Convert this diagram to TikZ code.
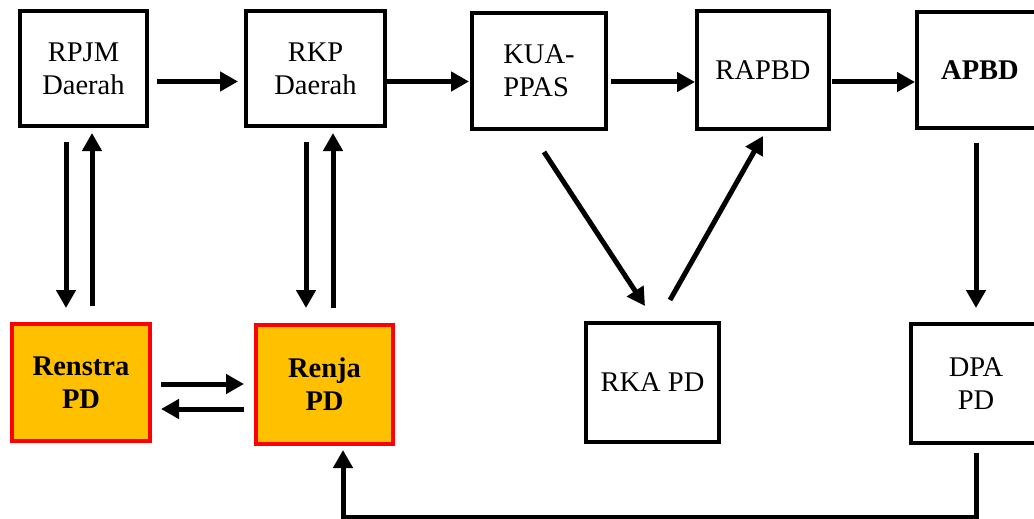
\documentclass[tikz,border=0pt]{standalone}
\usepackage{fontspec}
\setmainfont{Liberation Serif}
\usetikzlibrary{arrows.meta}
\definecolor{boxorange}{HTML}{FFC000}
\definecolor{boxred}{HTML}{FF0000}
\tikzset{
  plain/.style={draw=black, line width=4pt, rectangle, inner sep=0pt, align=center,
    font=\fontsize{28.5}{33}\selectfont},
  hot/.style={draw=boxred, fill=boxorange, line width=4pt, rectangle, inner sep=0pt, align=center,
    font=\bfseries\fontsize{28.5}{33}\selectfont},
  arr/.style={line width=5pt, -{Triangle[length=18pt,width=19pt]}}
}
\begin{document}
\begin{tikzpicture}[x=1pt,y=-1pt]
\useasboundingbox (0,0) rectangle (1034,519);
\clip (0,0) rectangle (1034,519);
\fill[white] (0,0) rectangle (1034,519);
% top row
\node[plain, minimum width=127pt, minimum height=115pt] (rpjm) at (83.5,68.5) {RPJM\\Daerah};
\node[plain, minimum width=139pt, minimum height=115pt] (rkp) at (315.5,68.5) {RKP\\Daerah};
\node[plain, minimum width=134pt, minimum height=116pt, align=left] (kua) at (539,71) {KUA-\\PPAS};
\node[plain, minimum width=132pt, minimum height=118pt] (rapbd) at (763,70) {RAPBD};
\node[plain, minimum width=126pt, minimum height=116pt, font=\bfseries\fontsize{28.5}{33}\selectfont] (apbd) at (980,70) {APBD};
% bottom row
\node[hot, minimum width=138pt, minimum height=117pt] (renstra) at (81,382.5) {Renstra\\PD};
\node[hot, minimum width=137pt, minimum height=119pt] (renja) at (324.5,384.5) {Renja\\PD};
\node[plain, minimum width=133pt, minimum height=119pt] (rka) at (652.5,382.5) {RKA PD};
\node[plain, minimum width=130pt, minimum height=119pt] (dpa) at (976,383.5) {DPA\\PD};
% horizontal arrows top
\draw[arr] ([xshift=8pt,yshift=-13pt]rpjm.east) -- ([xshift=-6pt,yshift=-13pt]rkp.west);
\draw[arr] ([xshift=0pt,yshift=-13pt]rkp.east) -- ([xshift=-1pt,yshift=-10.5pt]kua.west);
\draw[arr] ([xshift=3pt,yshift=-11pt]kua.east) -- ([xshift=0pt,yshift=-12pt]rapbd.west);
\draw[arr] ([xshift=1pt,yshift=-12pt]rapbd.east) -- ([xshift=0pt,yshift=-12pt]apbd.west);
% vertical pairs
\draw[arr] ([xshift=-17.5pt,yshift=-14pt]rpjm.south) -- ([xshift=-15pt,yshift=14pt]renstra.north);
\draw[arr] ([xshift=11pt,yshift=16pt]renstra.north) -- ([xshift=8.5pt,yshift=-5pt]rpjm.south);
\draw[arr] ([xshift=-9.5pt,yshift=-14pt]rkp.south) -- ([xshift=-18.5pt,yshift=15pt]renja.north);
\draw[arr] ([xshift=8.5pt,yshift=15pt]renja.north) -- ([xshift=17.5pt,yshift=-5pt]rkp.south);
% renstra <-> renja
\draw[arr] ([xshift=9pt,yshift=-1.5pt]renstra.east) -- ([xshift=-10pt,yshift=0.5pt]renja.west);
\draw[arr] ([xshift=-10pt,yshift=-24.5pt]renja.west) -- ([xshift=9pt,yshift=-26.5pt]renstra.east);
% diagonals
\draw[arr] ([xshift=5pt,yshift=-21pt]kua.south) -- ([xshift=-7.5pt,yshift=15pt]rka.north);
\draw[arr] ([xshift=17.5pt,yshift=21pt]rka.north) -- ([xshift=0pt,yshift=-5pt]rapbd.south);
% apbd -> dpa
\draw[arr] ([xshift=-4pt,yshift=-13pt]apbd.south) -- ([yshift=14pt]dpa.north);
% dpa -> renja
\draw[arr] ([yshift=-8pt]dpa.south) |- ([xshift=18.5pt,yshift=-71pt]renja.south) -- ([xshift=18.5pt,yshift=-4pt]renja.south);
\end{tikzpicture}
\end{document}
